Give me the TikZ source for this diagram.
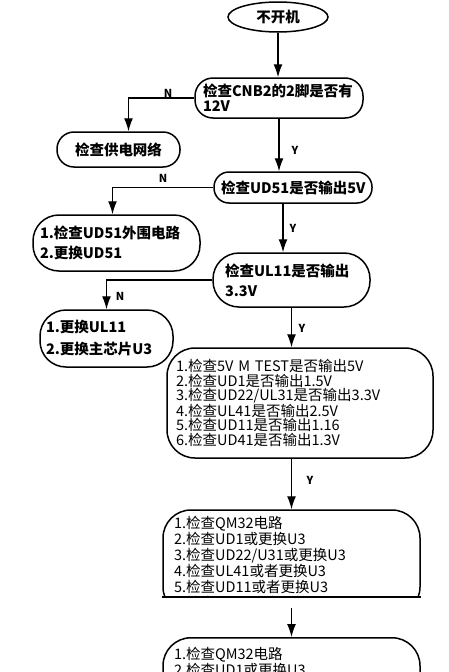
\documentclass[tikz,border=0pt]{standalone}
\usepackage{fontspec}
\setmainfont{Noto Sans CJK SC}
\usetikzlibrary{arrows.meta,shapes.geometric}
\begin{document}
\begin{tikzpicture}[x=1pt, y=-1pt, line width=1.3pt,
  flowbox/.style={draw, line width=1.5pt, align=left, inner ysep=0pt},
  flowarrow/.style={-{Latex[length=13pt,width=9pt]}},
  yn/.style={font=\bfseries\fontsize{11}{11}\selectfont, inner sep=0pt},
  boldtext/.style={font=\bfseries\fontsize{14.5}{#1}\selectfont},
  thintext/.style={font=\fontsize{14.5}{#1}\selectfont}]
  \clip (0,0) rectangle (448,672);
  \fill[white] (0,0) rectangle (448,672);
  % start
  \node[draw, line width=1.5pt, ellipse, minimum width=100, minimum height=30, inner sep=0pt,
    boldtext=15] (start) at (278,17) {不开机};
  % first checks
  \node[flowbox, boldtext=15, rounded corners=18, text width=152, inner xsep=8,
    minimum height=40] (b2) at (279,98) {检查CNB2的2脚是否有\\12V};
  \node[flowbox, boldtext=15, align=center, rounded corners=17, text width=105, inner xsep=9,
    minimum height=35] (b3) at (118.5,149.5) {检查供电网络};
  \node[flowbox, boldtext=15, rounded corners=15, text width=144, inner xsep=7,
    minimum height=31] (b4) at (293,187.5) {检查UD51是否输出5V};
  \node[flowbox, boldtext=20, rounded corners=26, text width=153, inner xsep=7,
    minimum height=56] (b5) at (116.5,243) {1.检查UD51外围电路\\2.更换UD51};
  \node[flowbox, boldtext=20, rounded corners=26, text width=133, inner xsep=12,
    minimum height=54] (b6) at (291.5,280) {检查UL11是否输出\\3.3V};
  \node[flowbox, boldtext=22, rounded corners=26, text width=121, inner xsep=6,
    minimum height=57] (b7) at (106.5,338.5) {1.更换UL11\\2.更换主芯片U3};
  % voltage list
  \node[flowbox, thintext=14.5, rounded corners=28, text width=248, inner xsep=9,
    minimum height=110] (b8) at (300,403) {1.检查5V M TEST是否输出5V\\2.检查UD1是否输出1.5V\\
    3.检查UD22/UL31是否输出3.3V\\4.检查UL41是否输出2.5V\\5.检查UD11是否输出1.16\\
    6.检查UD41是否输出1.3V};
  % repair list, cut off
  \begin{scope}
    \clip (0,0) rectangle (448,597);
    \node[flowbox, thintext=16, rounded corners=28, text width=235, inner xsep=11,
      minimum height=105] (b9) at (291.5,562.5) {1.检查QM32电路\\2.检查UD1或更换U3\\
      3.检查UD22/U31或更换U3\\4.检查UL41或者更换U3\\5.检查UD11或者更换U3\\
      6.检查UD41或者更换U3};
  \end{scope}
  \coordinate (cutline) at (0,597);
  \draw[line width=1.5pt] (b9.west |- cutline) -- (b9.east |- cutline);
  \node[flowbox, thintext=14, rounded corners=28, text width=235, inner xsep=11,
    minimum height=106, anchor=north] (b10) at (291.5,637) {1.检查QM32电路\\2.检查UD1或更换U3\\
    3.检查UD22/U31或更换U3\\4.检查UL41或者更换U3\\5.检查UD11或者更换U3\\
    6.检查UD41或者更换U3};
  \coordinate (cut) at (291.5,608);
  % connectors
  \draw[flowarrow] (start) -- (start |- b2.north);
  \draw[flowarrow] (b2.west) -| ([xshift=10pt]b3.north);
  \draw[flowarrow] (b2.south) -- (b2.south |- b4.north);
  \draw[flowarrow] (b4.west) -| ([xshift=-4pt]b5.north);
  \draw[flowarrow] ([xshift=-10pt]b4.south) -- ([xshift=-10pt]b4.south |- b6.north);
  \draw[flowarrow] (b6.west) -| (b7.north);
  \draw[flowarrow] (b6.south) -- (b6.south |- b8.north);
  \draw[flowarrow] (b9.north |- b8.south) -- (b9.north);
  \draw[flowarrow] (cut) -- (b10.north);
  % branch labels
  \node[yn] at (168,93) {N};
  \node[yn] at (295,150) {Y};
  \node[yn] at (163,178) {N};
  \node[yn] at (293,228) {Y};
  \node[yn] at (120,296) {N};
  \node[yn] at (302,328) {Y};
  \node[yn] at (310,480) {Y};
\end{tikzpicture}
\end{document}
